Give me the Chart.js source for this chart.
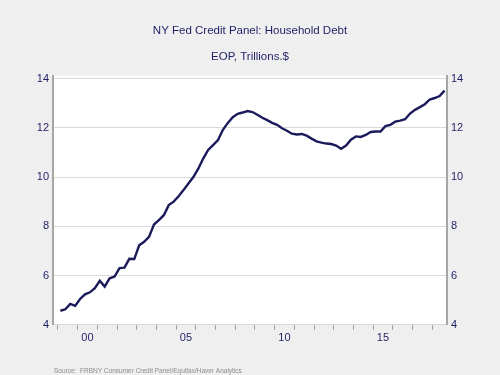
<!DOCTYPE html>
<html><head><meta charset="utf-8">
<script src="https://cdn.jsdelivr.net/npm/chart.js@4/dist/chart.umd.min.js"></script>
<style>html,body{margin:0;padding:0;background:#efefef;}#wrap{width:500px;height:375px;}</style>
</head><body><div id="wrap"><canvas id="c" width="500" height="375"></canvas></div>
<script>
const titleText = "NY Fed Credit Panel: Household Debt";
const subtitleText = "EOP, Trillions.$";
const sourceText = "Source:  FRBNY Consumer Credit Panel/Equifax/Haver Analytics";

const quarters = [
 "1999Q1","1999Q2","1999Q3","1999Q4","2000Q1","2000Q2","2000Q3","2000Q4",
 "2001Q1","2001Q2","2001Q3","2001Q4","2002Q1","2002Q2","2002Q3","2002Q4",
 "2003Q1","2003Q2","2003Q3","2003Q4","2004Q1","2004Q2","2004Q3","2004Q4",
 "2005Q1","2005Q2","2005Q3","2005Q4","2006Q1","2006Q2","2006Q3","2006Q4",
 "2007Q1","2007Q2","2007Q3","2007Q4","2008Q1","2008Q2","2008Q3","2008Q4",
 "2009Q1","2009Q2","2009Q3","2009Q4","2010Q1","2010Q2","2010Q3","2010Q4",
 "2011Q1","2011Q2","2011Q3","2011Q4","2012Q1","2012Q2","2012Q3","2012Q4",
 "2013Q1","2013Q2","2013Q3","2013Q4","2014Q1","2014Q2","2014Q3","2014Q4",
 "2015Q1","2015Q2","2015Q3","2015Q4","2016Q1","2016Q2","2016Q3","2016Q4",
 "2017Q1","2017Q2","2017Q3","2017Q4","2018Q1","2018Q2","2018Q3"
];
const householdDebt = [
 4.57, 4.63, 4.85, 4.77,  5.05, 5.24, 5.32, 5.49,
 5.79, 5.55, 5.89, 5.96,  6.30, 6.32, 6.68, 6.67,
 7.23, 7.37, 7.57, 8.07,  8.25, 8.45, 8.86, 9.00,
 9.22, 9.47, 9.74, 10.00, 10.34, 10.75, 11.10, 11.30,
 11.50, 11.92, 12.20, 12.43, 12.57, 12.62, 12.68, 12.64,
 12.53, 12.41, 12.31, 12.20, 12.12, 11.98, 11.88, 11.76,
 11.73, 11.75, 11.68, 11.56, 11.45, 11.40, 11.36, 11.34,
 11.28, 11.15, 11.28, 11.52, 11.65, 11.63, 11.71, 11.83,
 11.85, 11.85, 12.07, 12.12, 12.25, 12.29, 12.35, 12.58,
 12.73, 12.84, 12.96, 13.15, 13.21, 13.29, 13.51
];
const yTickValues = [4, 6, 8, 10, 12, 14];
const xTickYears = [1999,2000,2001,2002,2003,2004,2005,2006,2007,2008,2009,2010,2011,2012,2013,2014,2015,2016,2017,2018];
const xTickLabels = {2000: "00", 2005: "05", 2010: "10", 2015: "15"};

// quarter label -> mid-quarter position in years
function quarterPos(q) {
  const y = parseInt(q.slice(0, 4), 10);
  const n = parseInt(q.slice(5), 10);
  return y + (n - 1) / 4 + 0.125;
}

const navy = "#1f1f66";
const tickFont = {family: "'Liberation Sans', Arial, sans-serif", size: 11};

const bgPlugin = {
  id: "bg",
  beforeDraw(chart) {
    const {ctx, chartArea: a} = chart;
    ctx.save();
    ctx.fillStyle = "#efefef";
    ctx.fillRect(0, 0, chart.width, chart.height);
    ctx.fillStyle = "#ffffff";
    ctx.fillRect(a.left, a.top, a.right - a.left, a.bottom - a.top);
    ctx.restore();
  },
  afterDraw(chart) {
    const ctx = chart.ctx;
    ctx.save();
    ctx.font = "6.5px 'Liberation Sans', Arial, sans-serif";
    ctx.fillStyle = "#8c8c8c";
    ctx.textBaseline = "middle";
    ctx.textAlign = "left";
    ctx.fillText(sourceText, 54, 371.5);
    ctx.restore();
  }
};

const yCommon = {
  min: 4, max: 14.12,
  afterBuildTicks: s => { s.ticks = yTickValues.map(v => ({value: v})); },
  afterFit: s => { s.width = 53; },
  ticks: {color: navy, font: tickFont, padding: 4},
  border: {display: true, color: "#a6a6a6", width: 2}
};

new Chart(document.getElementById("c"), {
  type: "line",
  data: {
    datasets: [{
      data: quarters.map((q, i) => ({x: quarterPos(q), y: householdDebt[i]})),
      borderColor: "#1b1b5c",
      borderWidth: 2.4,
      pointRadius: 0,
      tension: 0,
      fill: false
    }]
  },
  plugins: [bgPlugin],
  options: {
    responsive: false,
    animation: false,
    layout: {padding: {left: 0, right: 0, top: 0, bottom: 28}},
    plugins: {
      legend: {display: false},
      tooltip: {enabled: false},
      title: {display: true, text: titleText, color: navy,
        font: {family: "'Liberation Sans', Arial, sans-serif", size: 11.5, weight: "normal"},
        padding: {top: 24, bottom: 0}},
      subtitle: {display: true, text: subtitleText, color: navy,
        font: {family: "'Liberation Sans', Arial, sans-serif", size: 11.5, weight: "normal"},
        padding: {top: 12, bottom: 12}}
    },
    scales: {
      x: {
        type: "linear", min: 1998.75, max: 2018.75,
        afterBuildTicks: s => { s.ticks = xTickYears.map(v => ({value: v})); },
        ticks: {autoSkip: false, maxRotation: 0, minRotation: 0, labelOffset: 9.8, padding: 2,
          color: navy, font: tickFont, callback: v => xTickLabels[v] || ""},
        grid: {drawOnChartArea: false, tickLength: 5, color: "#a0a0a0"},
        border: {display: false}
      },
      y: Object.assign({}, yCommon, {position: "left",
        grid: {color: "#dadada", drawTicks: false}}),
      y2: Object.assign({}, yCommon, {position: "right",
        grid: {drawOnChartArea: false, drawTicks: false}})
    }
  }
});
</script>
</body></html>
